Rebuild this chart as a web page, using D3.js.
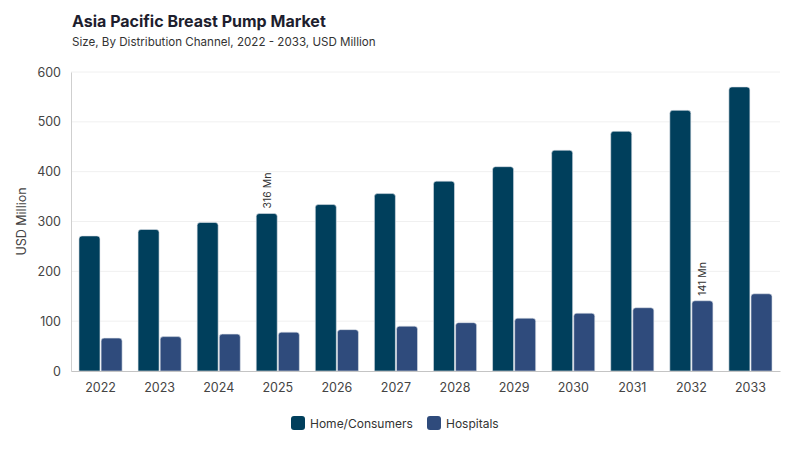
<!DOCTYPE html>
<html>
<head>
<meta charset="utf-8">
<script src="https://cdn.jsdelivr.net/npm/d3@7"></script>
<style>
  body { margin: 0; background: #fff; }
  text { font-family: Inter, "Noto Sans", sans-serif; }
</style>
</head>
<body>
<div class="chart"></div>
<script>
const years = ["2022", "2023", "2024", "2025", "2026", "2027", "2028", "2029", "2030", "2031", "2032", "2033"]
const homeValues = [271, 284, 298, 316, 334, 356, 381, 410, 443, 481, 523, 570]
const hospitalValues = [66, 69, 74, 78, 83, 90, 97, 106, 116, 127, 141, 155]
const seriesNames = ["Home/Consumers", "Hospitals"]
const yTicks = [0, 100, 200, 300, 400, 500, 600]
// which bars get a value label: [year, series]
const labelled = [["2025", "Home/Consumers"], ["2032", "Hospitals"]]

const width = 800
const height = 450
const margin = { top: 72, right: 20, bottom: 79, left: 71 }

const colors = d3.scaleOrdinal().domain(seriesNames).range(["#003f5c", "#2f4b7c"])

const rows = years.map((y, i) => ({ year: y, "Home/Consumers": homeValues[i], "Hospitals": hospitalValues[i] }))

const svg = d3.select(".chart")
    .append("svg")
    .attr("width", width)
    .attr("height", height)

// title
svg.append("text")
    .attr("x", 72).attr("y", 27)
    .attr("font-size", 16).attr("font-weight", 700)
    .attr("fill", "#1e1e2e")
    .text("Asia Pacific Breast Pump Market")
svg.append("text")
    .attr("x", 72).attr("y", 46)
    .attr("font-size", 11.6).attr("fill", "#333")
    .text("Size, By Distribution Channel, 2022 - 2033, USD Million")

const x = d3.scaleBand()
    .domain(years)
    .range([margin.left, width - margin.right])
    .paddingInner(0.27)
    .paddingOuter(0.135)

const xInner = d3.scaleBand()
    .domain(seriesNames)
    .range([0, x.bandwidth()])
    .paddingInner(0.05)

const y = d3.scaleLinear()
    .domain([0, 600])
    .range([height - margin.bottom, margin.top])

// grid
svg.append("g")
    .selectAll("line")
    .data(yTicks.slice(1))
    .join("line")
    .attr("x1", margin.left).attr("x2", width - margin.right)
    .attr("y1", d => y(d)).attr("y2", d => y(d))
    .attr("stroke", "#f0f0f0")

// y axis
const yAxis = svg.append("g")
    .attr("transform", `translate(${margin.left}, 0)`)
    .call(d3.axisLeft(y).tickValues(yTicks).tickSize(0).tickPadding(10))
yAxis.select(".domain").attr("stroke", "#cfcfcf")
yAxis.selectAll(".tick text").attr("font-size", 12.5).attr("fill", "#444")
    .attr("font-family", "Inter, sans-serif")

svg.append("text")
    .attr("transform", `translate(26, ${(margin.top + height - margin.bottom) / 2}) rotate(-90)`)
    .attr("text-anchor", "middle")
    .attr("font-size", 12.5).attr("fill", "#444")
    .text("USD Million")

// bars
const groups = svg.append("g")
    .selectAll("g")
    .data(rows)
    .join("g")
    .attr("transform", d => `translate(${x(d.year)}, 0)`)

const r = 3
const barPath = (x0, w, yTop, yBot) => {
    const rr = Math.min(r, (yBot - yTop))
    return `M${x0},${yBot} V${yTop + rr} Q${x0},${yTop} ${x0 + rr},${yTop} H${x0 + w - rr} Q${x0 + w},${yTop} ${x0 + w},${yTop + rr} V${yBot} Z`
}

groups.selectAll("path")
    .data(d => seriesNames.map(s => ({ year: d.year, series: s, value: d[s] })))
    .join("path")
    .attr("d", d => barPath(xInner(d.series), xInner.bandwidth(), y(d.value), y(0)))
    .attr("fill", d => colors(d.series))
    .attr("stroke", "#dde3ea")
    .attr("stroke-width", 0.6)

// value labels
labelled.forEach(([yr, s]) => {
    const v = rows.find(d => d.year === yr)[s]
    const cx = x(yr) + xInner(s) + xInner.bandwidth() / 2
    svg.append("text")
        .attr("transform", `translate(${cx + 4}, ${y(v) - 5}) rotate(-90)`)
        .attr("font-size", 10.5).attr("fill", "#333")
        .text(`${v} Mn`)
})

// x axis
const xAxis = svg.append("g")
    .attr("transform", `translate(0, ${y(0)})`)
    .call(d3.axisBottom(x).tickSize(0).tickPadding(12))
xAxis.select(".domain").attr("stroke", "#c4c4c4")
xAxis.selectAll(".tick text").attr("font-size", 12.5).attr("fill", "#444")
    .attr("font-family", "Inter, sans-serif")

// legend
const legendX = [291, 427]
const legend = svg.append("g")
    .selectAll("g")
    .data(seriesNames)
    .join("g")
    .attr("transform", (d, i) => `translate(${legendX[i]}, 416)`)
legend.append("rect")
    .attr("width", 14).attr("height", 14).attr("rx", 3)
    .attr("fill", d => colors(d))
legend.append("text")
    .attr("x", 19).attr("y", 11.5)
    .attr("font-size", 12).attr("fill", "#333")
    .text(d => d)
</script>
</body>
</html>
